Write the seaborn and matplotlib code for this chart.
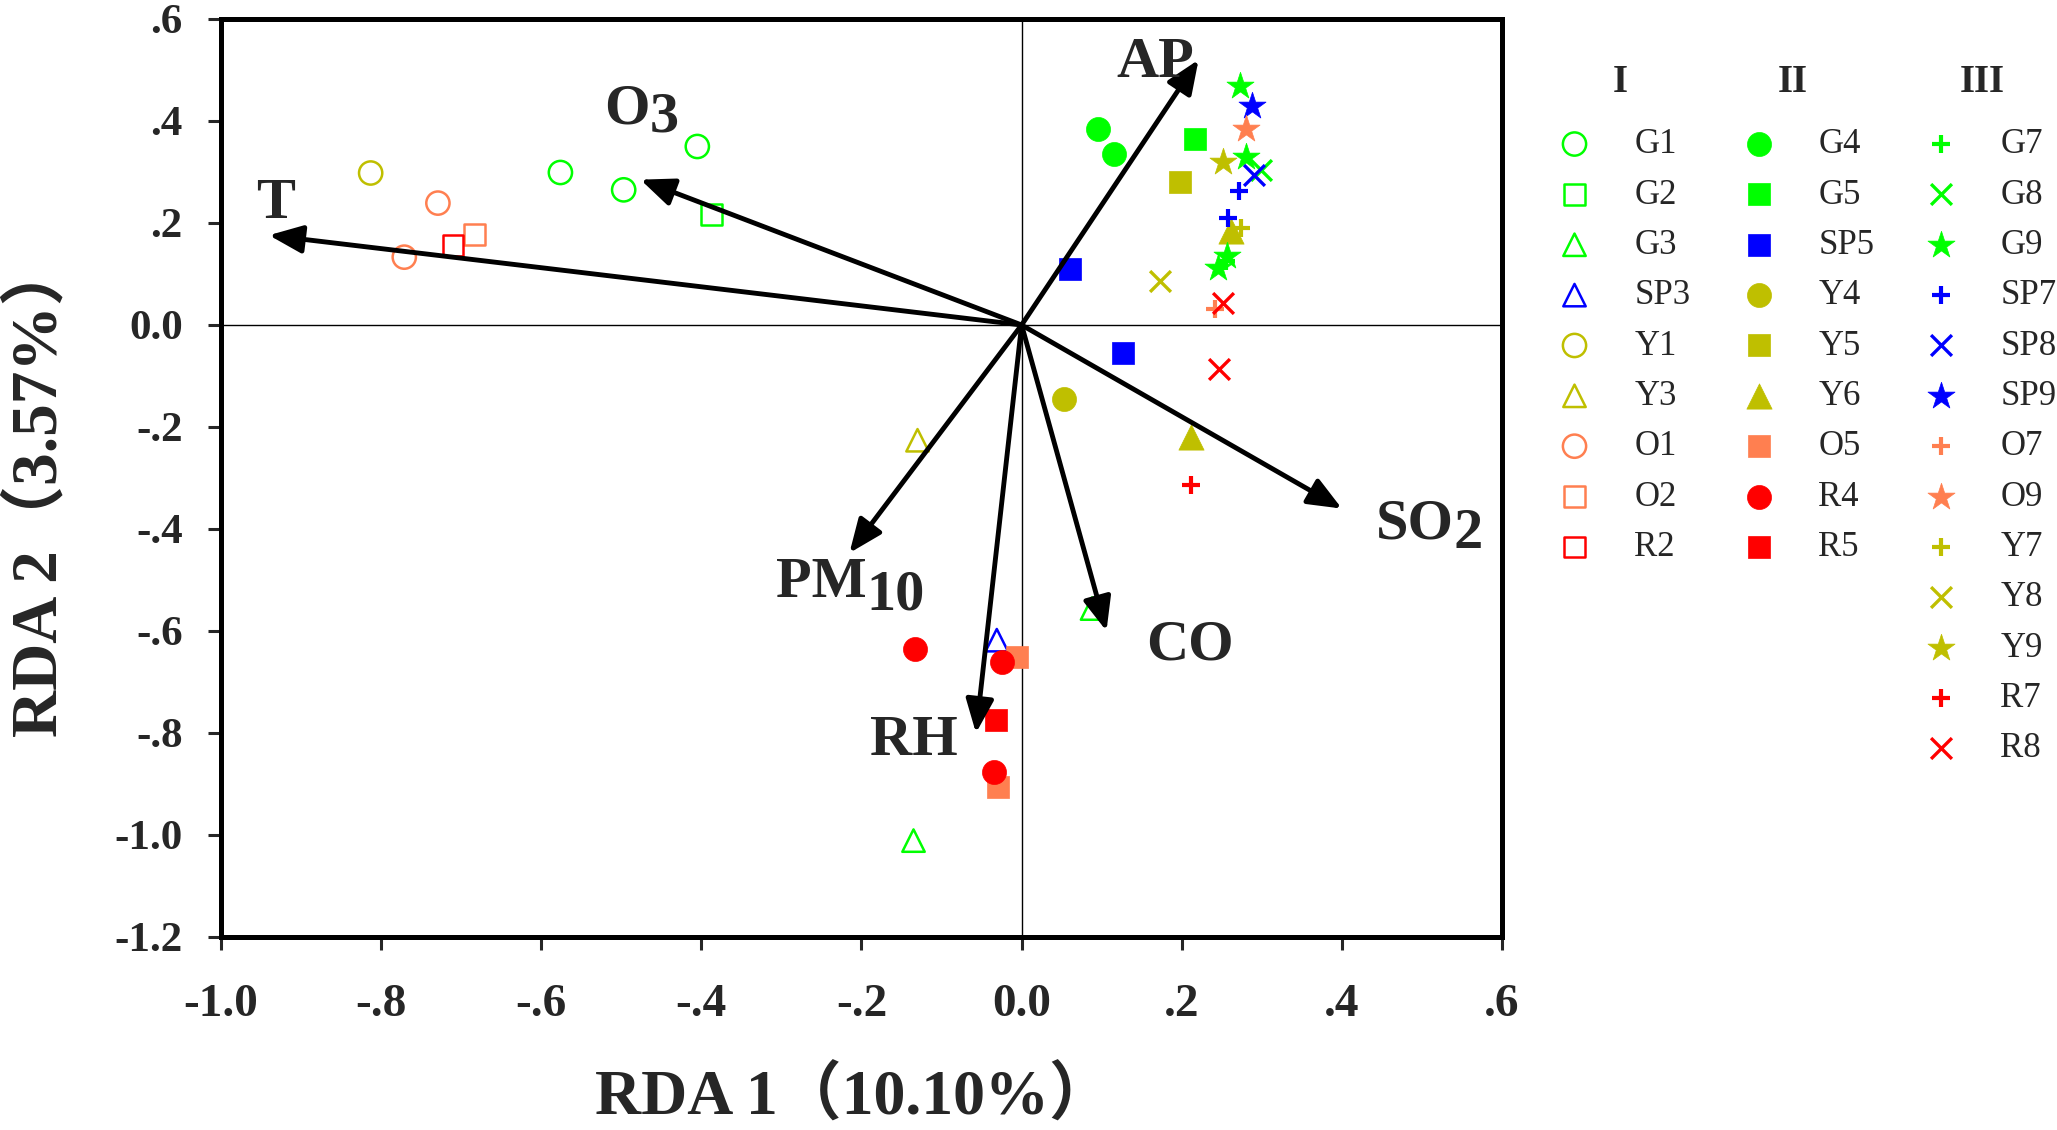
import numpy as np
import pandas as pd
import seaborn as sns
import matplotlib.pyplot as plt

# sample scores (RDA 1, RDA 2)
group1_names = ["G1", "G2", "G3", "SP3", "Y1", "Y3", "O1", "O2", "R2"]
group1_x = [[-0.576, -0.497, -0.405], [-0.387], [0.088, -0.135], [-0.031], [-0.813],
            [-0.130], [-0.729, -0.771], [-0.683], [-0.710]]
group1_y = [[0.299, 0.265, 0.350], [0.217], [-0.556, -1.011], [-0.618], [0.298],
            [-0.226], [0.239, 0.133], [0.177], [0.156]]

group2_names = ["G4", "G5", "SP5", "Y4", "Y5", "Y6", "O5", "R4", "R5"]
group2_x = [[0.096, 0.116], [0.216], [0.061, 0.127], [0.053], [0.198], [0.211, 0.261],
            [-0.006, -0.030], [-0.133, -0.025, -0.034], [-0.032]]
group2_y = [[0.384, 0.335], [0.365], [0.109, -0.055], [-0.146], [0.280], [-0.220, 0.184],
            [-0.651, -0.906], [-0.636, -0.660, -0.877], [-0.775]]

group3_names = ["G7", "G8", "G9", "SP7", "SP8", "SP9", "O7", "O9", "Y7", "Y8", "Y9", "R7", "R8"]
group3_x = [[0.255], [0.2985], [0.273, 0.280, 0.257, 0.245], [0.271, 0.258], [0.2906],
            [0.2875], [0.241], [0.280], [0.2735], [0.1725], [0.252], [0.211], [0.252, 0.247]]
group3_y = [[0.125], [0.304], [0.468, 0.329, 0.135, 0.112], [0.262, 0.210], [0.2945],
            [0.429], [0.031], [0.384], [0.190], [0.086], [0.319], [-0.314], [0.043, -0.086]]

# environmental vectors (arrow tips)
env_names = ["T", "O3", "AP", "SO2", "PM10", "RH", "CO"]
env_x = [-0.940, -0.476, 0.221, 0.400, -0.215, -0.057, 0.106]
env_y = [0.176, 0.285, 0.520, -0.360, -0.447, -0.800, -0.600]

x_ticks = [-1.0, -0.8, -0.6, -0.4, -0.2, 0.0, 0.2, 0.4, 0.6]
x_tick_labels = ["-1.0", "-.8", "-.6", "-.4", "-.2", "0.0", ".2", ".4", ".6"]
y_ticks = [-1.2, -1.0, -0.8, -0.6, -0.4, -0.2, 0.0, 0.2, 0.4, 0.6]
y_tick_labels = ["-1.2", "-1.0", "-.8", "-.6", "-.4", "-.2", "0.0", ".2", ".4", ".6"]

# long table of all samples
rows = []
for grp, names, xs, ys in [("I", group1_names, group1_x, group1_y),
                           ("II", group2_names, group2_x, group2_y),
                           ("III", group3_names, group3_x, group3_y)]:
    for n, xx, yy in zip(names, xs, ys):
        for a, b in zip(xx, yy):
            rows.append((grp, n, a, b))
df = pd.DataFrame(rows, columns=["group", "site", "x", "y"])

# styles
colors = {"G": "#00ff00", "SP": "#0000ff", "Y": "#bfbf00", "O": "#ff7f50", "R": "#ff0000"}
markers = {"1": "o", "2": "s", "3": "^", "4": "o", "5": "s", "6": "^", "7": "+", "8": "x", "9": "*"}
sizes = {"o": 280, "s": 220, "^": 260, "+": 160, "x": 225, "*": 420}
filled_size = {"o": 300, "s": 235, "^": 330}

sns.set_style("white")
plt.rcParams["font.family"] = ["Liberation Serif", "Noto Sans CJK SC"]

fig = plt.figure(figsize=(20.57, 11.30), dpi=100)
ax = fig.add_axes([0.1074, 0.1708, 0.6228, 0.8124])

ax.axhline(0, color="black", lw=1.0, zorder=1)
ax.axvline(0, color="black", lw=1.0, zorder=1)

for grp, names in [("I", group1_names), ("II", group2_names), ("III", group3_names)]:
    for n in names:
        sub = df[df.site == n]
        c = colors[n[:-1]]
        m = markers[n[-1]]
        if grp == "I":
            sns.scatterplot(data=sub, x="x", y="y", marker=m, s=sizes[m], color=c,
                            facecolor="none", edgecolor=c, linewidth=1.8,
                            label=n, legend=False, ax=ax, zorder=3)
        elif grp == "II":
            sns.scatterplot(data=sub, x="x", y="y", marker=m, s=filled_size[m], color=c,
                            edgecolor=c, linewidth=0.5,
                            label=n, legend=False, ax=ax, zorder=3)
        elif m == "*":
            sns.scatterplot(data=sub, x="x", y="y", marker=m, s=sizes[m], color=c,
                            edgecolor=c, linewidth=0.5,
                            label=n, legend=False, ax=ax, zorder=3)
        else:
            sns.scatterplot(data=sub, x="x", y="y", marker=m, s=sizes[m], color=c,
                            linewidth=3.0 if m == "+" else 2.4,
                            label=n, legend=False, ax=ax, zorder=3)

# arrows and their labels
label_pos = {"T": (-0.956, 0.210, "T", "", 0),
             "O3": (-0.521, 0.395, "O", "3", 6),
             "AP": (0.1185, 0.486, "AP", "", 0),
             "SO2": (0.442, -0.419, "SO", "2", 7),
             "PM10": (-0.307, -0.533, "PM", "10", 9),
             "RH": (-0.1895, -0.844, "RH", "", 0),
             "CO": (0.155, -0.656, "CO", "", 0)}
for n, tx, ty in zip(env_names, env_x, env_y):
    ax.annotate("", xy=(tx, ty), xytext=(0, 0),
                arrowprops=dict(arrowstyle="-|>,head_length=0.6,head_width=0.25",
                                color="black", lw=3.5, shrinkA=0, shrinkB=0,
                                mutation_scale=34),
                zorder=5)
    lx, ly, main, sb, off = label_pos[n]
    t = ax.text(lx, ly, main, fontsize=42, fontweight="bold", ha="left", va="baseline", zorder=6)
    if sb:
        ax.annotate(sb, xy=(1, 0), xycoords=t, xytext=(0, -off), textcoords="offset points",
                    fontsize=42, fontweight="bold", ha="left", va="bottom", zorder=6)

ax.set_xlim(-1.0, 0.6)
ax.set_ylim(-1.2, 0.6)
ax.set_xticks(x_ticks)
ax.set_xticklabels(x_tick_labels, fontsize=34, fontweight="bold")
ax.set_yticks(y_ticks)
ax.set_yticklabels(y_tick_labels, fontsize=31, fontweight="bold")
ax.tick_params(axis="x", direction="out", length=9.5, width=2.2, pad=24, bottom=True)
ax.tick_params(axis="y", direction="out", length=9.5, width=2.2, pad=18, left=True)
for s in ax.spines.values():
    s.set_linewidth(3.6)
    s.set_color("black")

ax.set_xlabel("RDA 1（10.10%）", fontsize=46, fontweight="bold")
ax.set_ylabel("RDA 2（3.57%）", fontsize=47, fontweight="bold")
ax.xaxis.label.set_verticalalignment("baseline")
ax.yaxis.label.set_verticalalignment("baseline")
ax.xaxis.set_label_coords(0.494, -0.193)
ax.yaxis.set_label_coords(-0.128, 0.489)

# three legend columns
handles, labels = ax.get_legend_handles_labels()
hmap = dict(zip(labels, handles))
leg_x = [0.757, 0.8465, 0.935]
head_x = [0.7876, 0.8717, 0.9635]
for names, lx, hx, title in zip([group1_names, group2_names, group3_names], leg_x, head_x,
                                ["I", "II", "III"]):
    fig.legend([hmap[n] for n in names], names, loc="upper left", bbox_to_anchor=(lx, 0.8866),
               frameon=False, fontsize=25, handlelength=1.0, handletextpad=1.22,
               labelspacing=0.5, borderpad=0, borderaxespad=0, scatterpoints=1)
    fig.text(hx, 0.927, title, fontsize=28, fontweight="bold", ha="center", va="center")

fig.savefig("out.png", dpi=100)
